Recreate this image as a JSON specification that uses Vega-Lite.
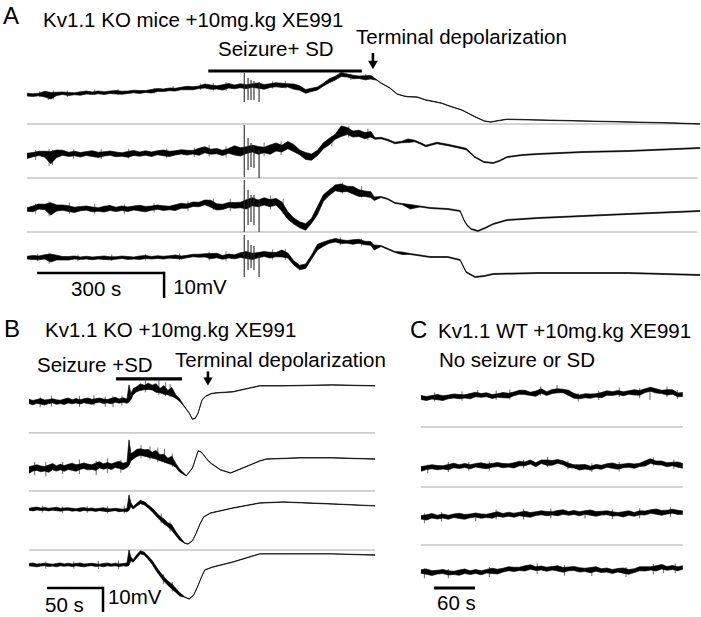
{
"$schema":"https://vega.github.io/schema/vega-lite/v6.json",
"padding":0,
"background":"white",
"spacing":0,
"bounds":"flush",
"config":{"view":{"stroke":null},"axis":{"disable":true},"font":"Liberation Sans","text":{"font":"Liberation Sans","color":"black"}},
"datasets":{
"A":[
{"c":1,"t":0,"a":-0.4,"b":0.7},{"c":1,"t":14,"a":-0.6,"b":0.5},{"c":1,"t":28,"a":-0.3,"b":0.7},{"c":1,"t":42,"a":-0.8,"b":1.5},{"c":1,"t":56,"a":-1.6,"b":1.0},{"c":1,"t":70,"a":-0.2,"b":1.1},{"c":1,"t":84,"a":0.2,"b":1.2},{"c":1,"t":98,"a":-0.2,"b":1.0},{"c":1,"t":112,"a":0.1,"b":0.9},{"c":1,"t":126,"a":-0.1,"b":1.3},{"c":1,"t":140,"a":0.4,"b":1.6},{"c":1,"t":154,"a":0.2,"b":1.2},{"c":1,"t":168,"a":0.5,"b":1.6},{"c":1,"t":182,"a":0.2,"b":1.3},{"c":1,"t":196,"a":0.6,"b":1.6},{"c":1,"t":210,"a":0.4,"b":1.8},{"c":1,"t":224,"a":0.3,"b":1.5},{"c":1,"t":238,"a":0.6,"b":1.6},{"c":1,"t":252,"a":0.9,"b":1.9},{"c":1,"t":266,"a":0.6,"b":1.8},{"c":1,"t":280,"a":1.0,"b":1.8},{"c":1,"t":294,"a":0.8,"b":2.2},{"c":1,"t":308,"a":1.4,"b":2.6},{"c":1,"t":322,"a":1.4,"b":2.4},{"c":1,"t":336,"a":1.7,"b":2.8},{"c":1,"t":350,"a":1.6,"b":2.7},{"c":1,"t":364,"a":2.1,"b":3.1},{"c":1,"t":378,"a":2.1,"b":3.5},{"c":1,"t":392,"a":2.1,"b":3.3},{"c":1,"t":406,"a":2.6,"b":3.6},{"c":1,"t":420,"a":2.8,"b":4.4},{"c":1,"t":434,"a":2.3,"b":4.0},{"c":1,"t":448,"a":2.4,"b":3.7},{"c":1,"t":462,"a":2.0,"b":4.1},{"c":1,"t":476,"a":2.8,"b":4.6},{"c":1,"t":490,"a":2.5,"b":4.0},{"c":1,"t":504,"a":2.9,"b":4.5},{"c":1,"t":518,"a":2.5,"b":4.1},{"c":1,"t":532,"a":3.1,"b":4.5},{"c":1,"t":546,"a":2.7,"b":4.8},{"c":1,"t":560,"a":2.3,"b":4.2},{"c":1,"t":574,"a":3.0,"b":4.5},{"c":1,"t":588,"a":3.3,"b":4.9},{"c":1,"t":602,"a":3.0,"b":4.7},{"c":1,"t":616,"a":3.2,"b":4.5},{"c":1,"t":630,"a":2.3,"b":4.4},{"c":1,"t":644,"a":1.9,"b":3.7},{"c":1,"t":658,"a":0.7,"b":2.2},{"c":1,"t":672,"a":1.4,"b":2.7},{"c":1,"t":686,"a":2.0,"b":3.2},{"c":1,"t":700,"a":3.6,"b":4.7},{"c":1,"t":714,"a":4.9,"b":6.5},{"c":1,"t":728,"a":6.0,"b":7.5},{"c":1,"t":742,"a":7.4,"b":9.0},{"c":1,"t":756,"a":7.2,"b":8.4},{"c":1,"t":770,"a":6.5,"b":7.9},{"c":1,"t":784,"a":6.6,"b":7.6},{"c":1,"t":798,"a":6.1,"b":7.7},{"c":1,"t":812,"a":6.4,"b":7.8},
{"c":1,"t":826,"a":5.9,"b":6.1},{"c":1,"t":836,"a":4.7,"b":4.9},{"c":1,"t":857,"a":2.7,"b":2.9},{"c":1,"t":874,"a":0.3,"b":0.5},{"c":1,"t":890,"a":-0.5,"b":-0.3},{"c":1,"t":900,"a":-0.8,"b":-0.6},{"c":1,"t":921,"a":-0.9,"b":-0.7},{"c":1,"t":942,"a":-2.1,"b":-1.9},{"c":1,"t":960,"a":-2.7,"b":-2.5},{"c":1,"t":980,"a":-3.4,"b":-3.2},{"c":1,"t":994,"a":-4.3,"b":-4.1},{"c":1,"t":1027,"a":-6.1,"b":-5.9},{"c":1,"t":1058,"a":-8.8,"b":-8.6},{"c":1,"t":1080,"a":-10.5,"b":-10.3},{"c":1,"t":1095,"a":-10.9,"b":-10.7},{"c":1,"t":1115,"a":-10.3,"b":-10.1},{"c":1,"t":1134,"a":-9.8,"b":-9.6},{"c":1,"t":1207,"a":-10.1,"b":-9.9},{"c":1,"t":1313,"a":-10.5,"b":-10.3},{"c":1,"t":1420,"a":-10.9,"b":-10.7},{"c":1,"t":1526,"a":-11.3,"b":-11.1},{"c":1,"t":1590,"a":-11.7,"b":-11.5},
{"c":2,"t":0,"a":-25.4,"b":-23.3},{"c":2,"t":14,"a":-24.7,"b":-23.0},{"c":2,"t":28,"a":-24.2,"b":-22.5},{"c":2,"t":42,"a":-24.9,"b":-22.5},{"c":2,"t":56,"a":-27.5,"b":-22.6},{"c":2,"t":70,"a":-25.0,"b":-22.0},{"c":2,"t":84,"a":-24.1,"b":-22.1},{"c":2,"t":98,"a":-24.6,"b":-22.9},{"c":2,"t":112,"a":-24.3,"b":-22.5},{"c":2,"t":126,"a":-24.8,"b":-23.0},{"c":2,"t":140,"a":-24.2,"b":-22.6},{"c":2,"t":154,"a":-24.6,"b":-22.3},{"c":2,"t":168,"a":-25.0,"b":-22.9},{"c":2,"t":182,"a":-24.4,"b":-22.7},{"c":2,"t":196,"a":-24.1,"b":-22.4},{"c":2,"t":210,"a":-24.7,"b":-22.8},{"c":2,"t":224,"a":-24.5,"b":-23.1},{"c":2,"t":238,"a":-24.9,"b":-22.6},{"c":2,"t":252,"a":-24.2,"b":-22.2},{"c":2,"t":266,"a":-24.5,"b":-22.8},{"c":2,"t":280,"a":-24.1,"b":-22.3},{"c":2,"t":294,"a":-24.6,"b":-22.8},{"c":2,"t":308,"a":-23.9,"b":-22.3},{"c":2,"t":322,"a":-24.3,"b":-22.0},{"c":2,"t":336,"a":-24.6,"b":-22.5},{"c":2,"t":350,"a":-24.0,"b":-22.3},{"c":2,"t":364,"a":-23.6,"b":-21.9},{"c":2,"t":378,"a":-24.0,"b":-22.1},{"c":2,"t":392,"a":-23.6,"b":-22.2},{"c":2,"t":406,"a":-24.1,"b":-21.3},{"c":2,"t":420,"a":-23.1,"b":-20.7},{"c":2,"t":434,"a":-23.7,"b":-21.7},{"c":2,"t":448,"a":-23.5,"b":-21.4},{"c":2,"t":462,"a":-24.2,"b":-22.1},{"c":2,"t":476,"a":-23.3,"b":-21.4},{"c":2,"t":490,"a":-24.0,"b":-20.3},{"c":2,"t":504,"a":-24.4,"b":-21.1},{"c":2,"t":518,"a":-23.4,"b":-20.7},{"c":2,"t":532,"a":-22.8,"b":-20.1},{"c":2,"t":546,"a":-23.7,"b":-20.6},{"c":2,"t":560,"a":-23.1,"b":-20.9},{"c":2,"t":574,"a":-23.7,"b":-20.0},{"c":2,"t":588,"a":-22.4,"b":-19.2},{"c":2,"t":602,"a":-22.8,"b":-20.1},{"c":2,"t":616,"a":-21.5,"b":-18.6},{"c":2,"t":630,"a":-22.7,"b":-19.8},{"c":2,"t":644,"a":-23.9,"b":-22.0},{"c":2,"t":658,"a":-25.8,"b":-23.0},{"c":2,"t":672,"a":-26.1,"b":-23.6},{"c":2,"t":686,"a":-24.2,"b":-22.1},{"c":2,"t":700,"a":-21.5,"b":-19.1},{"c":2,"t":714,"a":-19.9,"b":-17.3},{"c":2,"t":728,"a":-17.7,"b":-15.7},{"c":2,"t":742,"a":-16.6,"b":-12.4},{"c":2,"t":756,"a":-15.8,"b":-13.0},{"c":2,"t":770,"a":-16.8,"b":-14.4},{"c":2,"t":784,"a":-16.6,"b":-14.1},{"c":2,"t":798,"a":-17.5,"b":-15.0},{"c":2,"t":812,"a":-16.8,"b":-14.6},
{"c":2,"t":822,"a":-17.7,"b":-17.1},{"c":2,"t":836,"a":-17.5,"b":-16.9},{"c":2,"t":852,"a":-18.3,"b":-17.7},{"c":2,"t":869,"a":-19.5,"b":-18.9},{"c":2,"t":885,"a":-19.1,"b":-18.5},{"c":2,"t":900,"a":-19.0,"b":-17.6},{"c":2,"t":916,"a":-18.7,"b":-18.1},{"c":2,"t":930,"a":-19.7,"b":-19.1},{"c":2,"t":942,"a":-20.7,"b":-20.1},{"c":2,"t":955,"a":-20.1,"b":-19.5},{"c":2,"t":968,"a":-19.5,"b":-18.9},{"c":2,"t":994,"a":-20.3,"b":-19.7},{"c":2,"t":1016,"a":-21.1,"b":-20.5},{"c":2,"t":1037,"a":-21.9,"b":-21.3},{"c":2,"t":1058,"a":-25.0,"b":-24.6},{"c":2,"t":1079,"a":-27.0,"b":-26.6},{"c":2,"t":1101,"a":-27.4,"b":-27.0},{"c":2,"t":1115,"a":-26.6,"b":-26.2},{"c":2,"t":1134,"a":-25.0,"b":-24.6},{"c":2,"t":1170,"a":-24.2,"b":-23.8},{"c":2,"t":1207,"a":-23.8,"b":-23.4},{"c":2,"t":1313,"a":-23.0,"b":-22.6},{"c":2,"t":1420,"a":-22.6,"b":-22.2},{"c":2,"t":1590,"a":-21.4,"b":-21.0},
{"c":3,"t":0,"a":-46.5,"b":-45.1},{"c":3,"t":14,"a":-46.7,"b":-44.4},{"c":3,"t":28,"a":-45.6,"b":-43.6},{"c":3,"t":42,"a":-45.9,"b":-43.7},{"c":3,"t":56,"a":-48.0,"b":-43.1},{"c":3,"t":70,"a":-46.4,"b":-44.0},{"c":3,"t":84,"a":-46.1,"b":-44.0},{"c":3,"t":98,"a":-46.6,"b":-44.3},{"c":3,"t":112,"a":-47.0,"b":-44.9},{"c":3,"t":126,"a":-46.3,"b":-44.6},{"c":3,"t":140,"a":-46.1,"b":-44.4},{"c":3,"t":154,"a":-46.7,"b":-44.8},{"c":3,"t":168,"a":-46.5,"b":-45.1},{"c":3,"t":182,"a":-46.8,"b":-44.5},{"c":3,"t":196,"a":-46.2,"b":-44.2},{"c":3,"t":210,"a":-46.6,"b":-44.9},{"c":3,"t":224,"a":-46.2,"b":-44.4},{"c":3,"t":238,"a":-46.6,"b":-44.8},{"c":3,"t":252,"a":-46.0,"b":-44.4},{"c":3,"t":266,"a":-46.4,"b":-44.1},{"c":3,"t":280,"a":-46.7,"b":-44.6},{"c":3,"t":294,"a":-46.1,"b":-44.4},{"c":3,"t":308,"a":-45.7,"b":-44.0},{"c":3,"t":322,"a":-46.2,"b":-44.3},{"c":3,"t":336,"a":-45.9,"b":-44.5},{"c":3,"t":350,"a":-46.2,"b":-43.9},{"c":3,"t":364,"a":-45.3,"b":-43.3},{"c":3,"t":378,"a":-45.3,"b":-43.6},{"c":3,"t":392,"a":-44.6,"b":-42.8},{"c":3,"t":406,"a":-44.7,"b":-42.9},{"c":3,"t":420,"a":-43.9,"b":-42.0},{"c":3,"t":434,"a":-44.9,"b":-42.1},{"c":3,"t":448,"a":-46.0,"b":-43.5},{"c":3,"t":462,"a":-45.8,"b":-43.7},{"c":3,"t":476,"a":-45.0,"b":-43.0},{"c":3,"t":490,"a":-45.3,"b":-43.0},{"c":3,"t":504,"a":-45.1,"b":-42.9},{"c":3,"t":518,"a":-45.6,"b":-41.9},{"c":3,"t":532,"a":-44.3,"b":-41.1},{"c":3,"t":546,"a":-44.7,"b":-42.0},{"c":3,"t":560,"a":-44.0,"b":-41.1},{"c":3,"t":574,"a":-44.7,"b":-41.8},{"c":3,"t":588,"a":-44.0,"b":-41.4},{"c":3,"t":602,"a":-46.5,"b":-42.8},{"c":3,"t":616,"a":-49.7,"b":-46.7},{"c":3,"t":630,"a":-51.6,"b":-49.2},{"c":3,"t":644,"a":-53.1,"b":-50.7},{"c":3,"t":658,"a":-54.1,"b":-51.5},{"c":3,"t":672,"a":-51.3,"b":-49.3},{"c":3,"t":686,"a":-47.8,"b":-44.6},{"c":3,"t":700,"a":-42.5,"b":-39.9},{"c":3,"t":714,"a":-40.1,"b":-37.9},{"c":3,"t":728,"a":-38.3,"b":-36.0},{"c":3,"t":742,"a":-38.8,"b":-35.6},{"c":3,"t":756,"a":-38.6,"b":-36.5},{"c":3,"t":770,"a":-39.6,"b":-36.6},{"c":3,"t":784,"a":-40.6,"b":-37.9},{"c":3,"t":798,"a":-40.6,"b":-38.4},{"c":3,"t":812,"a":-41.0,"b":-38.7},
{"c":3,"t":820,"a":-42.2,"b":-40.8},{"c":3,"t":836,"a":-41.0,"b":-40.6},{"c":3,"t":852,"a":-41.8,"b":-41.4},{"c":3,"t":869,"a":-43.4,"b":-43.0},{"c":3,"t":886,"a":-43.8,"b":-43.4},{"c":3,"t":905,"a":-45.6,"b":-43.8},{"c":3,"t":928,"a":-44.8,"b":-44.4},{"c":3,"t":952,"a":-45.4,"b":-45.0},{"c":3,"t":994,"a":-45.8,"b":-45.4},{"c":3,"t":1023,"a":-46.6,"b":-46.2},{"c":3,"t":1032,"a":-50.2,"b":-49.8},{"c":3,"t":1039,"a":-52.2,"b":-51.8},{"c":3,"t":1049,"a":-53.8,"b":-53.4},{"c":3,"t":1065,"a":-54.6,"b":-54.2},{"c":3,"t":1082,"a":-53.4,"b":-53.0},{"c":3,"t":1101,"a":-51.8,"b":-51.4},{"c":3,"t":1134,"a":-50.2,"b":-49.8},{"c":3,"t":1207,"a":-49.4,"b":-49.0},{"c":3,"t":1313,"a":-48.6,"b":-48.2},{"c":3,"t":1420,"a":-47.8,"b":-47.4},{"c":3,"t":1590,"a":-46.6,"b":-46.2},
{"c":4,"t":0,"a":-65.6,"b":-64.5},{"c":4,"t":14,"a":-65.8,"b":-64.2},{"c":4,"t":28,"a":-65.9,"b":-64.4},{"c":4,"t":42,"a":-65.6,"b":-63.9},{"c":4,"t":56,"a":-66.8,"b":-63.6},{"c":4,"t":70,"a":-66.0,"b":-64.1},{"c":4,"t":84,"a":-66.0,"b":-64.6},{"c":4,"t":98,"a":-66.0,"b":-64.6},{"c":4,"t":112,"a":-65.6,"b":-64.4},{"c":4,"t":126,"a":-65.8,"b":-64.8},{"c":4,"t":140,"a":-65.6,"b":-64.5},{"c":4,"t":154,"a":-65.9,"b":-64.8},{"c":4,"t":168,"a":-65.6,"b":-64.6},{"c":4,"t":182,"a":-65.8,"b":-64.4},{"c":4,"t":196,"a":-65.9,"b":-64.7},{"c":4,"t":210,"a":-65.7,"b":-64.7},{"c":4,"t":224,"a":-65.4,"b":-64.4},{"c":4,"t":238,"a":-65.8,"b":-64.6},{"c":4,"t":252,"a":-65.6,"b":-64.8},{"c":4,"t":266,"a":-65.8,"b":-64.4},{"c":4,"t":280,"a":-65.4,"b":-64.2},{"c":4,"t":294,"a":-65.6,"b":-64.6},{"c":4,"t":308,"a":-65.4,"b":-64.3},{"c":4,"t":322,"a":-65.6,"b":-64.5},{"c":4,"t":336,"a":-65.3,"b":-64.3},{"c":4,"t":350,"a":-65.4,"b":-64.0},{"c":4,"t":364,"a":-65.6,"b":-64.4},{"c":4,"t":378,"a":-65.1,"b":-64.1},{"c":4,"t":392,"a":-64.7,"b":-63.7},{"c":4,"t":406,"a":-64.9,"b":-63.7},{"c":4,"t":420,"a":-64.8,"b":-63.5},{"c":4,"t":434,"a":-65.5,"b":-63.4},{"c":4,"t":448,"a":-65.1,"b":-63.3},{"c":4,"t":462,"a":-65.7,"b":-64.2},{"c":4,"t":476,"a":-65.2,"b":-63.6},{"c":4,"t":490,"a":-65.5,"b":-63.9},{"c":4,"t":504,"a":-65.0,"b":-63.1},{"c":4,"t":518,"a":-65.4,"b":-62.6},{"c":4,"t":532,"a":-65.8,"b":-63.3},{"c":4,"t":546,"a":-65.1,"b":-63.0},{"c":4,"t":560,"a":-64.6,"b":-62.6},{"c":4,"t":574,"a":-65.2,"b":-62.9},{"c":4,"t":588,"a":-64.7,"b":-63.0},{"c":4,"t":602,"a":-64.8,"b":-62.0},{"c":4,"t":616,"a":-65.2,"b":-63.2},{"c":4,"t":630,"a":-68.0,"b":-66.3},{"c":4,"t":644,"a":-69.9,"b":-68.1},{"c":4,"t":658,"a":-69.4,"b":-67.6},{"c":4,"t":672,"a":-65.6,"b":-64.0},{"c":4,"t":686,"a":-62.0,"b":-59.7},{"c":4,"t":700,"a":-60.5,"b":-58.8},{"c":4,"t":714,"a":-59.3,"b":-58.0},{"c":4,"t":728,"a":-58.8,"b":-57.4},{"c":4,"t":742,"a":-59.4,"b":-57.9},{"c":4,"t":756,"a":-59.3,"b":-58.2},{"c":4,"t":770,"a":-59.7,"b":-57.9},{"c":4,"t":784,"a":-59.3,"b":-57.7},{"c":4,"t":798,"a":-59.9,"b":-58.5},{"c":4,"t":812,"a":-60.1,"b":-58.6},
{"c":4,"t":820,"a":-62.0,"b":-60.0},{"c":4,"t":836,"a":-60.6,"b":-60.2},{"c":4,"t":869,"a":-63.0,"b":-62.6},{"c":4,"t":886,"a":-63.8,"b":-62.8},{"c":4,"t":905,"a":-63.8,"b":-63.4},{"c":4,"t":952,"a":-65.0,"b":-64.6},{"c":4,"t":994,"a":-65.0,"b":-64.6},{"c":4,"t":1023,"a":-66.2,"b":-65.8},{"c":4,"t":1037,"a":-71.0,"b":-70.6},{"c":4,"t":1058,"a":-73.0,"b":-72.6},{"c":4,"t":1080,"a":-72.6,"b":-72.2},{"c":4,"t":1101,"a":-71.8,"b":-71.4},{"c":4,"t":1207,"a":-71.4,"b":-71.0},{"c":4,"t":1420,"a":-71.4,"b":-71.0},{"c":4,"t":1590,"a":-72.2,"b":-71.8}
],
"As":[
{"c":1,"t":513,"a":-2.8,"b":8.8},{"c":1,"t":522,"a":-2.0,"b":6.8},{"c":1,"t":529,"a":-2.0,"b":6.0},{"c":1,"t":536,"a":-2.0,"b":5.6},{"c":1,"t":548,"a":-2.8,"b":5.2},
{"c":2,"t":513,"a":-32.8,"b":-12.0},{"c":2,"t":522,"a":-30.0,"b":-17.2},{"c":2,"t":529,"a":-28.8,"b":-19.2},{"c":2,"t":536,"a":-29.2,"b":-20.0},{"c":2,"t":548,"a":-33.2,"b":-22.0},
{"c":3,"t":513,"a":-54.8,"b":-34.0},{"c":3,"t":522,"a":-52.0,"b":-38.0},{"c":3,"t":529,"a":-50.8,"b":-40.0},{"c":3,"t":536,"a":-52.0,"b":-40.0},{"c":3,"t":548,"a":-54.8,"b":-42.0},
{"c":4,"t":513,"a":-72.8,"b":-56.0},{"c":4,"t":522,"a":-70.0,"b":-58.0},{"c":4,"t":529,"a":-69.2,"b":-60.0},{"c":4,"t":536,"a":-70.0,"b":-60.4},{"c":4,"t":548,"a":-72.8,"b":-64.0}
],
"Ah":[
{"c":1,"t":30,"a":-0.9,"b":1.6},{"c":1,"t":50,"a":-2.0,"b":1.2},{"c":1,"t":62,"a":-1.8,"b":1.8},{"c":1,"t":95,"a":-0.8,"b":1.8},{"c":1,"t":160,"a":0.0,"b":2.2},{"c":1,"t":215,"a":0.0,"b":2.3},{"c":1,"t":300,"a":0.5,"b":2.8},{"c":1,"t":345,"a":1.5,"b":3.6},{"c":1,"t":410,"a":2.0,"b":4.6},{"c":1,"t":440,"a":1.8,"b":4.8},{"c":1,"t":470,"a":1.6,"b":5.2},{"c":1,"t":580,"a":2.5,"b":5.5},{"c":1,"t":610,"a":2.6,"b":5.6},{"c":1,"t":765,"a":6.0,"b":8.6},{"c":1,"t":800,"a":5.8,"b":8.4},
{"c":2,"t":20,"a":-26.0,"b":-22.0},{"c":2,"t":52,"a":-28.5,"b":-21.5},{"c":2,"t":60,"a":-28.0,"b":-22.0},{"c":2,"t":110,"a":-25.5,"b":-21.8},{"c":2,"t":175,"a":-25.6,"b":-21.6},{"c":2,"t":240,"a":-25.5,"b":-21.5},{"c":2,"t":330,"a":-25.2,"b":-21.4},{"c":2,"t":395,"a":-24.8,"b":-21.0},{"c":2,"t":430,"a":-24.6,"b":-20.0},{"c":2,"t":470,"a":-25.0,"b":-20.5},{"c":2,"t":560,"a":-24.5,"b":-19.0},{"c":2,"t":600,"a":-24.0,"b":-18.5},{"c":2,"t":720,"a":-20.5,"b":-16.5},{"c":2,"t":760,"a":-17.0,"b":-12.5},{"c":2,"t":805,"a":-18.0,"b":-13.5},
{"c":3,"t":20,"a":-47.5,"b":-43.5},{"c":3,"t":52,"a":-48.5,"b":-42.5},{"c":3,"t":100,"a":-47.5,"b":-43.0},{"c":3,"t":160,"a":-47.5,"b":-43.5},{"c":3,"t":230,"a":-47.5,"b":-43.8},{"c":3,"t":300,"a":-47.0,"b":-43.2},{"c":3,"t":380,"a":-46.5,"b":-42.5},{"c":3,"t":440,"a":-46.0,"b":-41.5},{"c":3,"t":480,"a":-46.5,"b":-41.5},{"c":3,"t":575,"a":-45.8,"b":-40.2},{"c":3,"t":605,"a":-47.5,"b":-41.5},{"c":3,"t":745,"a":-39.5,"b":-35.0},{"c":3,"t":790,"a":-41.0,"b":-36.5},
{"c":4,"t":25,"a":-66.5,"b":-63.5},{"c":4,"t":52,"a":-67.5,"b":-63.0},{"c":4,"t":120,"a":-66.5,"b":-63.8},{"c":4,"t":200,"a":-66.4,"b":-63.8},{"c":4,"t":280,"a":-66.2,"b":-63.6},{"c":4,"t":360,"a":-66.0,"b":-63.4},{"c":4,"t":430,"a":-66.2,"b":-62.8},{"c":4,"t":470,"a":-66.5,"b":-62.5},{"c":4,"t":580,"a":-65.8,"b":-61.8},{"c":4,"t":610,"a":-66.0,"b":-61.5},{"c":4,"t":740,"a":-60.0,"b":-57.0},{"c":4,"t":790,"a":-60.5,"b":-57.5}
],
"B":[
{"c":1,"t":0,"a":-0.7,"b":1.1},{"c":1,"t":3.5,"a":-1.2,"b":0.6},{"c":1,"t":7,"a":-0.6,"b":1.0},{"c":1,"t":10.5,"a":-0.9,"b":1.4},{"c":1,"t":14,"a":-1.3,"b":0.8},{"c":1,"t":17.5,"a":-0.7,"b":1.0},{"c":1,"t":21,"a":-0.4,"b":1.3},{"c":1,"t":24.5,"a":-1.0,"b":0.9},{"c":1,"t":28,"a":-0.7,"b":0.7},{"c":1,"t":31.5,"a":-1.1,"b":1.2},{"c":1,"t":35,"a":-0.4,"b":1.6},{"c":1,"t":38.5,"a":-0.8,"b":0.9},{"c":1,"t":42,"a":-0.4,"b":1.4},{"c":1,"t":45.5,"a":-0.9,"b":0.9},{"c":1,"t":49,"a":-0.3,"b":1.3},{"c":1,"t":52.5,"a":-0.7,"b":1.6},{"c":1,"t":56,"a":-1.0,"b":1.1},{"c":1,"t":59.5,"a":-0.4,"b":1.3},{"c":1,"t":63,"a":-0.1,"b":1.6},{"c":1,"t":66.5,"a":-0.7,"b":1.2},{"c":1,"t":70,"a":-0.4,"b":1.0},{"c":1,"t":73.5,"a":-0.8,"b":1.5},{"c":1,"t":77,"a":-0.1,"b":1.9},{"c":1,"t":80.5,"a":-0.5,"b":1.2},{"c":1,"t":84,"a":-0.1,"b":1.7},{"c":1,"t":87.5,"a":-0.6,"b":1.2},
{"c":1,"t":89.3,"a":0.0,"b":7.1},{"c":1,"t":91,"a":1.0,"b":3.5},{"c":1,"t":93,"a":3.0,"b":5.5},{"c":1,"t":96,"a":4.2,"b":6.3},{"c":1,"t":99.5,"a":4.8,"b":7.5},{"c":1,"t":103,"a":5.1,"b":6.9},{"c":1,"t":106.5,"a":5.2,"b":7.8},{"c":1,"t":110,"a":5.0,"b":7.0},{"c":1,"t":113.5,"a":4.0,"b":7.6},{"c":1,"t":117,"a":3.8,"b":5.6},{"c":1,"t":120.5,"a":3.2,"b":6.8},{"c":1,"t":124,"a":3.0,"b":4.8},{"c":1,"t":127.5,"a":2.4,"b":6.0},{"c":1,"t":131,"a":1.5,"b":3.0},{"c":1,"t":134.5,"a":0.3,"b":1.3},
{"c":1,"t":139,"a":-2.2,"b":-2.0},{"c":1,"t":143,"a":-4.7,"b":-4.5},{"c":1,"t":146,"a":-7.3,"b":-7.1},{"c":1,"t":148.5,"a":-6.9,"b":-6.7},{"c":1,"t":151,"a":-4.7,"b":-4.5},{"c":1,"t":154.5,"a":0.7,"b":0.9},{"c":1,"t":158,"a":2.4,"b":2.6},{"c":1,"t":163,"a":3.4,"b":3.6},{"c":1,"t":168,"a":3.7,"b":3.9},{"c":1,"t":182,"a":4.1,"b":4.3},{"c":1,"t":197,"a":5.7,"b":5.9},{"c":1,"t":206,"a":6.6,"b":6.8},{"c":1,"t":227,"a":6.6,"b":6.8},{"c":1,"t":271,"a":7.0,"b":7.2},{"c":1,"t":309,"a":6.6,"b":6.8},
{"c":2,"t":0,"a":-29.7,"b":-27.0},{"c":2,"t":3.5,"a":-28.8,"b":-26.6},{"c":2,"t":7,"a":-28.5,"b":-26.2},{"c":2,"t":10.5,"a":-29.1,"b":-26.7},{"c":2,"t":14,"a":-28.8,"b":-26.9},{"c":2,"t":17.5,"a":-29.3,"b":-26.3},{"c":2,"t":21,"a":-28.3,"b":-25.7},{"c":2,"t":24.5,"a":-28.8,"b":-26.6},{"c":2,"t":28,"a":-28.3,"b":-26.0},{"c":2,"t":31.5,"a":-28.9,"b":-26.5},{"c":2,"t":35,"a":-28.1,"b":-26.0},{"c":2,"t":38.5,"a":-28.5,"b":-25.5},{"c":2,"t":42,"a":-28.9,"b":-26.2},{"c":2,"t":45.5,"a":-28.1,"b":-25.9},{"c":2,"t":49,"a":-27.7,"b":-25.4},{"c":2,"t":52.5,"a":-28.3,"b":-25.9},{"c":2,"t":56,"a":-28.1,"b":-26.2},{"c":2,"t":59.5,"a":-28.5,"b":-25.5},{"c":2,"t":63,"a":-27.5,"b":-24.9},{"c":2,"t":66.5,"a":-28.0,"b":-25.8},{"c":2,"t":70,"a":-27.5,"b":-25.2},{"c":2,"t":73.5,"a":-28.2,"b":-25.8},{"c":2,"t":77,"a":-27.3,"b":-25.2},{"c":2,"t":80.5,"a":-27.7,"b":-24.7},{"c":2,"t":84,"a":-28.2,"b":-25.5},{"c":2,"t":87.5,"a":-27.3,"b":-25.1},
{"c":2,"t":89.3,"a":-26.5,"b":-15.8},{"c":2,"t":91,"a":-24.5,"b":-21.5},{"c":2,"t":93,"a":-23.8,"b":-21.0},{"c":2,"t":96,"a":-22.8,"b":-19.8},{"c":2,"t":99.5,"a":-22.2,"b":-19.5},{"c":2,"t":103,"a":-22.6,"b":-19.9},{"c":2,"t":106.5,"a":-23.0,"b":-19.8},{"c":2,"t":110,"a":-23.4,"b":-21.0},{"c":2,"t":113.5,"a":-23.8,"b":-20.2},{"c":2,"t":117,"a":-24.5,"b":-22.0},{"c":2,"t":120.5,"a":-25.0,"b":-21.8},{"c":2,"t":124,"a":-25.6,"b":-23.5},{"c":2,"t":127.5,"a":-26.2,"b":-22.6},{"c":2,"t":131,"a":-27.2,"b":-25.5},{"c":2,"t":134.5,"a":-29.2,"b":-27.9},
{"c":2,"t":140.5,"a":-30.9,"b":-30.7},{"c":2,"t":146,"a":-27.6,"b":-27.4},{"c":2,"t":149,"a":-23.4,"b":-23.2},{"c":2,"t":151,"a":-20.5,"b":-20.3},{"c":2,"t":153.5,"a":-20.9,"b":-20.7},{"c":2,"t":156,"a":-22.2,"b":-22.0},{"c":2,"t":159.5,"a":-24.3,"b":-24.1},{"c":2,"t":162,"a":-25.5,"b":-25.3},{"c":2,"t":171,"a":-28.4,"b":-28.2},{"c":2,"t":180,"a":-29.7,"b":-29.5},{"c":2,"t":191,"a":-27.6,"b":-27.4},{"c":2,"t":206,"a":-24.7,"b":-24.5},{"c":2,"t":212,"a":-23.9,"b":-23.7},{"c":2,"t":242,"a":-23.4,"b":-23.2},{"c":2,"t":271,"a":-23.4,"b":-23.2},{"c":2,"t":309,"a":-23.9,"b":-23.7},
{"c":3,"t":0,"a":-45.1,"b":-44.3},{"c":3,"t":3.5,"a":-45.4,"b":-44.0},{"c":3,"t":7,"a":-45.0,"b":-43.8},{"c":3,"t":10.5,"a":-45.2,"b":-44.2},{"c":3,"t":14,"a":-45.1,"b":-44.0},{"c":3,"t":17.5,"a":-45.4,"b":-44.3},{"c":3,"t":21,"a":-45.1,"b":-44.1},{"c":3,"t":24.5,"a":-45.3,"b":-43.9},{"c":3,"t":28,"a":-45.5,"b":-44.3},{"c":3,"t":31.5,"a":-45.2,"b":-44.2},{"c":3,"t":35,"a":-45.1,"b":-44.1},{"c":3,"t":38.5,"a":-45.5,"b":-44.3},{"c":3,"t":42,"a":-45.3,"b":-44.5},{"c":3,"t":45.5,"a":-45.6,"b":-44.2},{"c":3,"t":49,"a":-45.2,"b":-44.0},{"c":3,"t":52.5,"a":-45.4,"b":-44.4},{"c":3,"t":56,"a":-45.3,"b":-44.2},{"c":3,"t":59.5,"a":-45.6,"b":-44.5},{"c":3,"t":63,"a":-45.3,"b":-44.3},{"c":3,"t":66.5,"a":-45.5,"b":-44.1},{"c":3,"t":70,"a":-45.7,"b":-44.5},{"c":3,"t":73.5,"a":-45.5,"b":-44.5},{"c":3,"t":77,"a":-45.3,"b":-44.3},{"c":3,"t":80.5,"a":-45.7,"b":-44.5},{"c":3,"t":84,"a":-45.5,"b":-44.7},{"c":3,"t":87.5,"a":-45.8,"b":-44.4},
{"c":3,"t":89.3,"a":-45.2,"b":-38.8},{"c":3,"t":91,"a":-43.6,"b":-42.0},{"c":3,"t":93,"a":-44.6,"b":-43.6},{"c":3,"t":96,"a":-43.5,"b":-42.3},{"c":3,"t":99.5,"a":-42.4,"b":-41.0},{"c":3,"t":103,"a":-42.9,"b":-41.6},{"c":3,"t":106.5,"a":-44.2,"b":-42.9},{"c":3,"t":110,"a":-45.7,"b":-44.2},{"c":3,"t":113.5,"a":-47.5,"b":-46.0},{"c":3,"t":117,"a":-49.3,"b":-47.6},{"c":3,"t":120.5,"a":-50.8,"b":-48.8},{"c":3,"t":124,"a":-52.0,"b":-50.3},{"c":3,"t":127.5,"a":-53.5,"b":-51.2},{"c":3,"t":131,"a":-55.6,"b":-53.9},{"c":3,"t":134.5,"a":-57.6,"b":-56.2},
{"c":3,"t":139,"a":-58.9,"b":-58.7},{"c":3,"t":142,"a":-59.3,"b":-59.1},{"c":3,"t":146,"a":-57.9,"b":-57.7},{"c":3,"t":149,"a":-55.1,"b":-54.9},{"c":3,"t":153,"a":-50.6,"b":-50.4},{"c":3,"t":156,"a":-48.0,"b":-47.8},{"c":3,"t":162,"a":-46.4,"b":-46.2},{"c":3,"t":182,"a":-44.3,"b":-44.1},{"c":3,"t":206,"a":-42.2,"b":-42.0},{"c":3,"t":227,"a":-41.8,"b":-41.6},{"c":3,"t":271,"a":-42.6,"b":-42.4},{"c":3,"t":309,"a":-43.4,"b":-43.2},
{"c":4,"t":0,"a":-68.3,"b":-67.3},{"c":4,"t":3.5,"a":-68.5,"b":-67.1},{"c":4,"t":7,"a":-68.7,"b":-67.5},{"c":4,"t":10.5,"a":-68.4,"b":-67.4},{"c":4,"t":14,"a":-68.2,"b":-67.2},{"c":4,"t":17.5,"a":-68.6,"b":-67.4},{"c":4,"t":21,"a":-68.4,"b":-67.6},{"c":4,"t":24.5,"a":-68.7,"b":-67.3},{"c":4,"t":28,"a":-68.3,"b":-67.1},{"c":4,"t":31.5,"a":-68.5,"b":-67.5},{"c":4,"t":35,"a":-68.3,"b":-67.2},{"c":4,"t":38.5,"a":-68.6,"b":-67.5},{"c":4,"t":42,"a":-68.3,"b":-67.3},{"c":4,"t":45.5,"a":-68.5,"b":-67.1},{"c":4,"t":49,"a":-68.7,"b":-67.5},{"c":4,"t":52.5,"a":-68.4,"b":-67.4},{"c":4,"t":56,"a":-68.2,"b":-67.2},{"c":4,"t":59.5,"a":-68.6,"b":-67.4},{"c":4,"t":63,"a":-68.4,"b":-67.6},{"c":4,"t":66.5,"a":-68.7,"b":-67.3},{"c":4,"t":70,"a":-68.3,"b":-67.1},{"c":4,"t":73.5,"a":-68.5,"b":-67.5},{"c":4,"t":77,"a":-68.3,"b":-67.2},{"c":4,"t":80.5,"a":-68.6,"b":-67.5},{"c":4,"t":84,"a":-68.3,"b":-67.3},{"c":4,"t":87.5,"a":-68.5,"b":-67.1},
{"c":4,"t":89.3,"a":-68.0,"b":-61.7},{"c":4,"t":91,"a":-66.2,"b":-64.6},{"c":4,"t":93,"a":-66.8,"b":-65.7},{"c":4,"t":96,"a":-65.1,"b":-63.8},{"c":4,"t":99.5,"a":-63.3,"b":-62.0},{"c":4,"t":103,"a":-63.8,"b":-62.6},{"c":4,"t":106.5,"a":-65.6,"b":-64.3},{"c":4,"t":110,"a":-67.6,"b":-66.1},{"c":4,"t":113.5,"a":-70.3,"b":-68.6},{"c":4,"t":117,"a":-72.6,"b":-70.9},{"c":4,"t":120.5,"a":-74.7,"b":-72.8},{"c":4,"t":124,"a":-76.4,"b":-74.6},{"c":4,"t":127.5,"a":-77.9,"b":-75.8},{"c":4,"t":131,"a":-79.3,"b":-77.6},{"c":4,"t":134.5,"a":-80.8,"b":-79.4},
{"c":4,"t":139,"a":-81.4,"b":-81.2},{"c":4,"t":143,"a":-82.2,"b":-82.0},{"c":4,"t":147,"a":-80.6,"b":-80.4},{"c":4,"t":150,"a":-77.6,"b":-77.4},{"c":4,"t":154,"a":-73.1,"b":-72.9},{"c":4,"t":157,"a":-70.1,"b":-69.9},{"c":4,"t":164,"a":-68.9,"b":-68.7},{"c":4,"t":182,"a":-66.8,"b":-66.6},{"c":4,"t":206,"a":-63.4,"b":-63.2},{"c":4,"t":227,"a":-63.4,"b":-63.2},{"c":4,"t":271,"a":-63.4,"b":-63.2},{"c":4,"t":309,"a":-63.9,"b":-63.7}
],
"Bs":[
{"c":1,"t":10,"a":-2.2,"b":2.0},{"c":1,"t":20,"a":-1.8,"b":2.6},{"c":1,"t":45,"a":-2.0,"b":2.5},{"c":1,"t":58,"a":-1.5,"b":2.8},{"c":1,"t":68,"a":-2.0,"b":2.2},{"c":1,"t":75,"a":-2.2,"b":2.4},{"c":1,"t":83,"a":-1.6,"b":2.6},{"c":1,"t":104,"a":4.0,"b":9.0},{"c":1,"t":116,"a":3.0,"b":9.2},{"c":1,"t":122,"a":2.5,"b":8.2},{"c":1,"t":126,"a":2.0,"b":7.5},
{"c":2,"t":5,"a":-30.5,"b":-25.0},{"c":2,"t":15,"a":-31.0,"b":-25.0},{"c":2,"t":30,"a":-30.0,"b":-25.0},{"c":2,"t":45,"a":-30.0,"b":-24.0},{"c":2,"t":60,"a":-30.5,"b":-24.5},{"c":2,"t":70,"a":-29.5,"b":-23.5},{"c":2,"t":82,"a":-29.5,"b":-24.2},{"c":2,"t":100,"a":-23.5,"b":-18.0},{"c":2,"t":108,"a":-24.0,"b":-18.5},{"c":2,"t":115,"a":-25.0,"b":-19.0},{"c":2,"t":121,"a":-25.5,"b":-19.5},{"c":2,"t":128,"a":-27.0,"b":-21.5},
{"c":3,"t":12,"a":-46.0,"b":-43.2},{"c":3,"t":30,"a":-46.2,"b":-43.5},{"c":3,"t":52,"a":-46.2,"b":-43.4},{"c":3,"t":70,"a":-46.5,"b":-43.4},{"c":3,"t":85,"a":-46.5,"b":-43.2},{"c":3,"t":118,"a":-50.5,"b":-46.5},{"c":3,"t":126,"a":-54.0,"b":-50.0},
{"c":4,"t":15,"a":-69.5,"b":-66.5},{"c":4,"t":40,"a":-69.4,"b":-66.4},{"c":4,"t":62,"a":-69.6,"b":-66.3},{"c":4,"t":80,"a":-69.5,"b":-66.2},{"c":4,"t":120,"a":-75.8,"b":-71.8},{"c":4,"t":128,"a":-79.0,"b":-75.0}
],
"C":[
{"c":1,"t":0,"a":-1.0,"b":0.6},{"c":1,"t":8,"a":-1.4,"b":0.2},{"c":1,"t":16,"a":-0.8,"b":0.6},{"c":1,"t":24,"a":-1.1,"b":1.0},{"c":1,"t":32,"a":-1.4,"b":0.5},{"c":1,"t":40,"a":-0.7,"b":0.8},{"c":1,"t":48,"a":-0.4,"b":1.2},{"c":1,"t":56,"a":-0.7,"b":1.0},{"c":1,"t":64,"a":-0.4,"b":0.9},{"c":1,"t":72,"a":-0.7,"b":1.4},{"c":1,"t":80,"a":0.1,"b":1.9},{"c":1,"t":88,"a":-0.1,"b":1.4},{"c":1,"t":96,"a":0.1,"b":1.7},{"c":1,"t":104,"a":-0.6,"b":1.0},{"c":1,"t":112,"a":-0.1,"b":1.3},{"c":1,"t":120,"a":-0.3,"b":1.8},{"c":1,"t":128,"a":-0.4,"b":1.5},{"c":1,"t":136,"a":0.5,"b":2.0},{"c":1,"t":144,"a":1.1,"b":2.7},{"c":1,"t":152,"a":1.0,"b":2.7},{"c":1,"t":160,"a":0.6,"b":1.9},{"c":1,"t":168,"a":0.3,"b":2.4},{"c":1,"t":176,"a":1.5,"b":3.3},{"c":1,"t":184,"a":0.6,"b":2.1},{"c":1,"t":192,"a":1.4,"b":3.0},{"c":1,"t":200,"a":1.7,"b":3.3},{"c":1,"t":208,"a":1.7,"b":3.1},{"c":1,"t":216,"a":0.6,"b":2.7},{"c":1,"t":224,"a":-0.5,"b":1.4},{"c":1,"t":232,"a":-0.7,"b":0.8},{"c":1,"t":240,"a":-0.3,"b":1.3},{"c":1,"t":248,"a":-0.5,"b":1.2},{"c":1,"t":256,"a":0.0,"b":1.3},{"c":1,"t":264,"a":-0.3,"b":1.8},{"c":1,"t":272,"a":0.7,"b":2.5},{"c":1,"t":280,"a":0.6,"b":2.1},{"c":1,"t":288,"a":1.0,"b":2.6},{"c":1,"t":296,"a":0.5,"b":2.1},{"c":1,"t":304,"a":1.1,"b":2.5},{"c":1,"t":312,"a":0.8,"b":2.9},{"c":1,"t":320,"a":0.7,"b":2.6},{"c":1,"t":328,"a":1.8,"b":3.3},{"c":1,"t":336,"a":2.3,"b":3.9},{"c":1,"t":344,"a":1.6,"b":3.3},{"c":1,"t":352,"a":1.4,"b":2.7},{"c":1,"t":360,"a":0.8,"b":2.9},{"c":1,"t":368,"a":1.1,"b":2.9},{"c":1,"t":376,"a":0.1,"b":1.6},{"c":1,"t":383,"a":0.2,"b":1.8},
{"c":2,"t":0,"a":-29.7,"b":-27.8},{"c":2,"t":8,"a":-29.0,"b":-27.5},{"c":2,"t":16,"a":-28.7,"b":-27.1},{"c":2,"t":24,"a":-29.1,"b":-27.4},{"c":2,"t":32,"a":-28.8,"b":-27.5},{"c":2,"t":40,"a":-29.1,"b":-27.0},{"c":2,"t":48,"a":-28.3,"b":-26.5},{"c":2,"t":56,"a":-28.6,"b":-27.1},{"c":2,"t":64,"a":-28.2,"b":-26.6},{"c":2,"t":72,"a":-28.7,"b":-27.1},{"c":2,"t":80,"a":-28.0,"b":-26.6},{"c":2,"t":88,"a":-28.4,"b":-26.3},{"c":2,"t":96,"a":-28.7,"b":-26.8},{"c":2,"t":104,"a":-28.1,"b":-26.6},{"c":2,"t":112,"a":-27.8,"b":-26.2},{"c":2,"t":120,"a":-28.3,"b":-26.6},{"c":2,"t":128,"a":-28.0,"b":-26.7},{"c":2,"t":136,"a":-28.4,"b":-26.3},{"c":2,"t":144,"a":-27.5,"b":-25.7},{"c":2,"t":152,"a":-27.5,"b":-26.0},{"c":2,"t":160,"a":-26.8,"b":-25.2},{"c":2,"t":168,"a":-27.9,"b":-26.3},{"c":2,"t":176,"a":-26.6,"b":-25.2},{"c":2,"t":184,"a":-27.3,"b":-25.2},{"c":2,"t":192,"a":-27.3,"b":-25.4},{"c":2,"t":200,"a":-26.5,"b":-25.0},{"c":2,"t":208,"a":-27.1,"b":-25.5},{"c":2,"t":216,"a":-28.2,"b":-26.5},{"c":2,"t":224,"a":-28.4,"b":-27.1},{"c":2,"t":232,"a":-29.2,"b":-27.1},{"c":2,"t":240,"a":-28.8,"b":-27.0},{"c":2,"t":248,"a":-29.2,"b":-27.7},{"c":2,"t":256,"a":-28.6,"b":-27.0},{"c":2,"t":264,"a":-28.9,"b":-27.3},{"c":2,"t":272,"a":-28.1,"b":-26.7},{"c":2,"t":280,"a":-28.5,"b":-26.4},{"c":2,"t":288,"a":-28.9,"b":-27.0},{"c":2,"t":296,"a":-28.3,"b":-26.8},{"c":2,"t":304,"a":-28.1,"b":-26.5},{"c":2,"t":312,"a":-28.5,"b":-26.8},{"c":2,"t":320,"a":-27.8,"b":-26.5},{"c":2,"t":328,"a":-27.6,"b":-25.5},{"c":2,"t":336,"a":-26.5,"b":-24.7},{"c":2,"t":344,"a":-27.1,"b":-25.6},{"c":2,"t":352,"a":-27.2,"b":-25.6},{"c":2,"t":360,"a":-27.9,"b":-26.3},{"c":2,"t":368,"a":-27.5,"b":-26.1},{"c":2,"t":376,"a":-28.1,"b":-26.0},{"c":2,"t":383,"a":-28.5,"b":-26.6},
{"c":3,"t":0,"a":-48.8,"b":-47.5},{"c":3,"t":8,"a":-49.2,"b":-47.1},{"c":3,"t":16,"a":-48.4,"b":-46.6},{"c":3,"t":24,"a":-48.8,"b":-47.3},{"c":3,"t":32,"a":-48.4,"b":-46.8},{"c":3,"t":40,"a":-48.9,"b":-47.3},{"c":3,"t":48,"a":-48.2,"b":-46.8},{"c":3,"t":56,"a":-48.6,"b":-46.5},{"c":3,"t":64,"a":-48.9,"b":-47.0},{"c":3,"t":72,"a":-48.3,"b":-46.8},{"c":3,"t":80,"a":-48.0,"b":-46.4},{"c":3,"t":88,"a":-48.5,"b":-46.8},{"c":3,"t":96,"a":-48.2,"b":-46.9},{"c":3,"t":104,"a":-48.5,"b":-46.4},{"c":3,"t":112,"a":-47.7,"b":-45.9},{"c":3,"t":120,"a":-48.1,"b":-46.6},{"c":3,"t":128,"a":-47.7,"b":-46.1},{"c":3,"t":136,"a":-48.1,"b":-46.5},{"c":3,"t":144,"a":-47.5,"b":-46.1},{"c":3,"t":152,"a":-47.8,"b":-45.7},{"c":3,"t":160,"a":-48.1,"b":-46.2},{"c":3,"t":168,"a":-47.4,"b":-45.9},{"c":3,"t":176,"a":-47.1,"b":-45.5},{"c":3,"t":184,"a":-47.5,"b":-45.8},{"c":3,"t":192,"a":-47.2,"b":-45.9},{"c":3,"t":200,"a":-47.5,"b":-45.4},{"c":3,"t":208,"a":-46.9,"b":-45.1},{"c":3,"t":216,"a":-47.3,"b":-45.8},{"c":3,"t":224,"a":-47.0,"b":-45.4},{"c":3,"t":232,"a":-47.5,"b":-45.9},{"c":3,"t":240,"a":-46.9,"b":-45.5},{"c":3,"t":248,"a":-47.3,"b":-45.2},{"c":3,"t":256,"a":-47.7,"b":-45.8},{"c":3,"t":264,"a":-47.2,"b":-45.7},{"c":3,"t":272,"a":-47.1,"b":-45.5},{"c":3,"t":280,"a":-47.6,"b":-45.9},{"c":3,"t":288,"a":-47.5,"b":-46.2},{"c":3,"t":296,"a":-48.0,"b":-45.9},{"c":3,"t":304,"a":-47.3,"b":-45.5},{"c":3,"t":312,"a":-47.7,"b":-46.2},{"c":3,"t":320,"a":-47.1,"b":-45.5},{"c":3,"t":328,"a":-47.2,"b":-45.6},{"c":3,"t":336,"a":-46.5,"b":-45.1},{"c":3,"t":344,"a":-46.9,"b":-44.8},{"c":3,"t":352,"a":-47.3,"b":-45.4},{"c":3,"t":360,"a":-46.8,"b":-45.3},{"c":3,"t":368,"a":-46.5,"b":-44.9},{"c":3,"t":376,"a":-47.0,"b":-45.3},{"c":3,"t":383,"a":-46.9,"b":-45.6},
{"c":4,"t":0,"a":-70.5,"b":-69.1},{"c":4,"t":8,"a":-70.9,"b":-68.8},{"c":4,"t":16,"a":-71.4,"b":-69.5},{"c":4,"t":24,"a":-70.8,"b":-69.3},{"c":4,"t":32,"a":-70.6,"b":-69.0},{"c":4,"t":40,"a":-71.2,"b":-69.5},{"c":4,"t":48,"a":-71.0,"b":-69.7},{"c":4,"t":56,"a":-71.3,"b":-69.2},{"c":4,"t":64,"a":-70.6,"b":-68.8},{"c":4,"t":72,"a":-71.0,"b":-69.5},{"c":4,"t":80,"a":-70.6,"b":-69.0},{"c":4,"t":88,"a":-71.1,"b":-69.5},{"c":4,"t":96,"a":-70.4,"b":-69.0},{"c":4,"t":104,"a":-70.6,"b":-68.5},{"c":4,"t":112,"a":-70.8,"b":-68.9},{"c":4,"t":120,"a":-70.0,"b":-68.5},{"c":4,"t":128,"a":-69.5,"b":-67.9},{"c":4,"t":136,"a":-69.8,"b":-68.1},{"c":4,"t":144,"a":-69.4,"b":-68.1},{"c":4,"t":152,"a":-69.6,"b":-67.5},{"c":4,"t":160,"a":-68.9,"b":-67.1},{"c":4,"t":168,"a":-69.4,"b":-67.9},{"c":4,"t":176,"a":-69.2,"b":-67.6},{"c":4,"t":184,"a":-69.7,"b":-68.1},{"c":4,"t":192,"a":-69.2,"b":-67.8},{"c":4,"t":200,"a":-69.6,"b":-67.5},{"c":4,"t":208,"a":-70.1,"b":-68.2},{"c":4,"t":216,"a":-69.5,"b":-68.0},{"c":4,"t":224,"a":-69.4,"b":-67.8},{"c":4,"t":232,"a":-70.0,"b":-68.3},{"c":4,"t":240,"a":-69.8,"b":-68.5},{"c":4,"t":248,"a":-70.3,"b":-68.2},{"c":4,"t":256,"a":-69.7,"b":-67.9},{"c":4,"t":264,"a":-70.2,"b":-68.7},{"c":4,"t":272,"a":-70.0,"b":-68.4},{"c":4,"t":280,"a":-70.6,"b":-69.0},{"c":4,"t":288,"a":-70.0,"b":-68.6},{"c":4,"t":296,"a":-70.5,"b":-68.4},{"c":4,"t":304,"a":-70.9,"b":-69.0},{"c":4,"t":312,"a":-70.2,"b":-68.7},{"c":4,"t":320,"a":-69.5,"b":-67.9},{"c":4,"t":328,"a":-69.6,"b":-67.9},{"c":4,"t":336,"a":-69.2,"b":-67.9},{"c":4,"t":344,"a":-69.6,"b":-67.5},{"c":4,"t":352,"a":-68.8,"b":-67.0},{"c":4,"t":360,"a":-69.3,"b":-67.8},{"c":4,"t":368,"a":-69.0,"b":-67.4},{"c":4,"t":376,"a":-69.5,"b":-67.9},{"c":4,"t":383,"a":-68.9,"b":-67.5}
],
"Cs":[
{"c":1,"t":20,"a":-1.8,"b":1.8},{"c":1,"t":60,"a":-1.5,"b":2.2},{"c":1,"t":83,"a":0.0,"b":2.8},{"c":1,"t":110,"a":-1.2,"b":2.6},{"c":1,"t":130,"a":-1.0,"b":3.0},{"c":1,"t":175,"a":0.5,"b":4.2},{"c":1,"t":199,"a":1.5,"b":4.8},{"c":1,"t":230,"a":-1.8,"b":1.5},{"c":1,"t":260,"a":-1.2,"b":2.5},{"c":1,"t":290,"a":0.0,"b":3.8},{"c":1,"t":320,"a":-0.5,"b":3.5},{"c":1,"t":335,"a":-1.2,"b":3.4},{"c":1,"t":360,"a":0.0,"b":4.2},{"c":1,"t":375,"a":-0.8,"b":2.8},
{"c":2,"t":10,"a":-30.5,"b":-27.0},{"c":2,"t":40,"a":-30.0,"b":-26.0},{"c":2,"t":70,"a":-29.5,"b":-26.0},{"c":2,"t":100,"a":-29.5,"b":-25.8},{"c":2,"t":150,"a":-28.5,"b":-25.0},{"c":2,"t":185,"a":-28.0,"b":-24.0},{"c":2,"t":215,"a":-29.0,"b":-25.5},{"c":2,"t":250,"a":-30.0,"b":-26.5},{"c":2,"t":290,"a":-29.8,"b":-26.0},{"c":2,"t":340,"a":-27.5,"b":-24.2},{"c":2,"t":370,"a":-28.8,"b":-25.0},
{"c":3,"t":5,"a":-50.5,"b":-46.5},{"c":3,"t":30,"a":-49.8,"b":-46.0},{"c":3,"t":80,"a":-49.6,"b":-46.6},{"c":3,"t":110,"a":-49.0,"b":-45.0},{"c":3,"t":150,"a":-49.0,"b":-44.8},{"c":3,"t":190,"a":-48.5,"b":-44.6},{"c":3,"t":240,"a":-48.6,"b":-45.5},{"c":3,"t":280,"a":-48.8,"b":-45.0},{"c":3,"t":320,"a":-48.5,"b":-44.5},{"c":3,"t":365,"a":-48.0,"b":-44.0},
{"c":4,"t":5,"a":-72.5,"b":-68.5},{"c":4,"t":40,"a":-72.5,"b":-68.8},{"c":4,"t":100,"a":-72.0,"b":-68.0},{"c":4,"t":170,"a":-70.8,"b":-66.5},{"c":4,"t":210,"a":-71.5,"b":-67.2},{"c":4,"t":250,"a":-71.6,"b":-68.2},{"c":4,"t":300,"a":-72.0,"b":-68.0},{"c":4,"t":340,"a":-71.0,"b":-66.8},{"c":4,"t":355,"a":-70.5,"b":-67.0},{"c":4,"t":372,"a":-70.5,"b":-66.5}
]
},
"vconcat":[
{"width":701,"height":310,
"layer":[
{"data":{"values":[{"v":-11.6},{"v":-33.2},{"v":-54.8}]},"mark":{"type":"rule","color":"#a8a8a8","strokeWidth":1},"encoding":{"x":{"datum":0,"type":"quantitative","scale":{"domain":[-64,1592],"nice":false,"zero":false}},"x2":{"datum":1584},"y":{"field":"v","type":"quantitative","scale":{"domain":[-86,38],"nice":false,"zero":false}}}},
{"data":{"name":"Ah"},"mark":{"type":"rule","color":"#555555","strokeWidth":0.8},"encoding":{"x":{"field":"t","type":"quantitative","scale":{"domain":[-64,1592],"nice":false,"zero":false}},"y":{"field":"a","type":"quantitative","scale":{"domain":[-86,38],"nice":false,"zero":false}},"y2":{"field":"b"}}},
{"data":{"name":"A"},"mark":{"type":"area","color":"black","opacity":1},"encoding":{"x":{"field":"t","type":"quantitative","scale":{"domain":[-64,1592],"nice":false,"zero":false}},"y":{"field":"a","type":"quantitative","scale":{"domain":[-86,38],"nice":false,"zero":false}},"y2":{"field":"b"},"detail":{"field":"c","type":"nominal"}}},
{"data":{"name":"A"},"mark":{"type":"line","color":"black","strokeWidth":0.65},"encoding":{"x":{"field":"t","type":"quantitative","scale":{"domain":[-64,1592],"nice":false,"zero":false}},"y":{"field":"a","type":"quantitative","scale":{"domain":[-86,38],"nice":false,"zero":false}},"detail":{"field":"c","type":"nominal"}}},
{"data":{"name":"A"},"mark":{"type":"line","color":"black","strokeWidth":0.65},"encoding":{"x":{"field":"t","type":"quantitative","scale":{"domain":[-64,1592],"nice":false,"zero":false}},"y":{"field":"b","type":"quantitative","scale":{"domain":[-86,38],"nice":false,"zero":false}},"detail":{"field":"c","type":"nominal"}}},
{"data":{"name":"As"},"mark":{"type":"rule","color":"#2a2a2a","strokeWidth":1.1},"encoding":{"x":{"field":"t","type":"quantitative","scale":{"domain":[-64,1592],"nice":false,"zero":false}},"y":{"field":"a","type":"quantitative","scale":{"domain":[-86,38],"nice":false,"zero":false}},"y2":{"field":"b"}}},
{"data":{"values":[{}]},"mark":{"type":"rule","color":"black","strokeWidth":3.2},"encoding":{"x":{"datum":428,"type":"quantitative","scale":{"domain":[-64,1592],"nice":false,"zero":false}},"x2":{"datum":791},"y":{"datum":9.6,"type":"quantitative","scale":{"domain":[-86,38],"nice":false,"zero":false}}}},
{"data":{"values":[{}]},"mark":{"type":"rule","color":"black","strokeWidth":2.6},"encoding":{"x":{"datum":817,"type":"quantitative","scale":{"domain":[-64,1592],"nice":false,"zero":false}},"y":{"datum":16.8,"type":"quantitative","scale":{"domain":[-86,38],"nice":false,"zero":false}},"y2":{"datum":13.2}}},
{"data":{"values":[{}]},"mark":{"type":"point","shape":"triangle-down","filled":true,"color":"black","opacity":1,"size":95},"encoding":{"x":{"datum":817,"type":"quantitative","scale":{"domain":[-64,1592],"nice":false,"zero":false}},"y":{"datum":12.0,"type":"quantitative","scale":{"domain":[-86,38],"nice":false,"zero":false}}}},
{"data":{"values":[{}]},"mark":{"type":"text","align":"left","baseline":"alphabetic","fontSize":24},"encoding":{"x":{"datum":-56.7,"type":"quantitative","scale":{"domain":[-64,1592],"nice":false,"zero":false}},"y":{"datum":28.6,"type":"quantitative","scale":{"domain":[-86,38],"nice":false,"zero":false}},"text":{"value":"A"}}},
{"data":{"values":[{}]},"mark":{"type":"text","align":"left","baseline":"alphabetic","fontSize":20.5},"encoding":{"x":{"datum":37.8,"type":"quantitative","scale":{"domain":[-64,1592],"nice":false,"zero":false}},"y":{"datum":27.4,"type":"quantitative","scale":{"domain":[-86,38],"nice":false,"zero":false}},"text":{"value":"Kv1.1 KO mice +10mg.kg XE991"}}},
{"data":{"values":[{}]},"mark":{"type":"text","align":"left","baseline":"alphabetic","fontSize":20.5},"encoding":{"x":{"datum":451,"type":"quantitative","scale":{"domain":[-64,1592],"nice":false,"zero":false}},"y":{"datum":15.8,"type":"quantitative","scale":{"domain":[-86,38],"nice":false,"zero":false}},"text":{"value":"Seizure+ SD"}}},
{"data":{"values":[{}]},"mark":{"type":"text","align":"left","baseline":"alphabetic","fontSize":20.5},"encoding":{"x":{"datum":777,"type":"quantitative","scale":{"domain":[-64,1592],"nice":false,"zero":false}},"y":{"datum":20.6,"type":"quantitative","scale":{"domain":[-86,38],"nice":false,"zero":false}},"text":{"value":"Terminal depolarization"}}},
{"data":{"values":[{}]},"mark":{"type":"rule","color":"black","strokeWidth":2.5},"encoding":{"x":{"datum":23.6,"type":"quantitative","scale":{"domain":[-64,1592],"nice":false,"zero":false}},"x2":{"datum":323.6},"y":{"datum":-71.2,"type":"quantitative","scale":{"domain":[-86,38],"nice":false,"zero":false}}}},
{"data":{"values":[{}]},"mark":{"type":"rule","color":"black","strokeWidth":2.5},"encoding":{"x":{"datum":323.6,"type":"quantitative","scale":{"domain":[-64,1592],"nice":false,"zero":false}},"y":{"datum":-70.7,"type":"quantitative","scale":{"domain":[-86,38],"nice":false,"zero":false}},"y2":{"datum":-81.2}}},
{"data":{"values":[{}]},"mark":{"type":"text","align":"left","baseline":"alphabetic","fontSize":20.5},"encoding":{"x":{"datum":104,"type":"quantitative","scale":{"domain":[-64,1592],"nice":false,"zero":false}},"y":{"datum":-80.4,"type":"quantitative","scale":{"domain":[-86,38],"nice":false,"zero":false}},"text":{"value":"300 s"}}},
{"data":{"values":[{}]},"mark":{"type":"text","align":"left","baseline":"alphabetic","fontSize":20.5},"encoding":{"x":{"datum":345,"type":"quantitative","scale":{"domain":[-64,1592],"nice":false,"zero":false}},"y":{"datum":-79.6,"type":"quantitative","scale":{"domain":[-86,38],"nice":false,"zero":false}},"text":{"value":"10mV"}}}
]},
{"hconcat":[
{"width":400,"height":307,
"layer":[
{"data":{"values":[{"v":-12.9},{"v":-37.1},{"v":-61.7}]},"mark":{"type":"rule","color":"#a8a8a8","strokeWidth":1},"encoding":{"x":{"datum":0,"type":"quantitative","scale":{"domain":[-25.9,331.3],"nice":false,"zero":false}},"x2":{"datum":309},"y":{"field":"v","type":"quantitative","scale":{"domain":[-89.6,38.3],"nice":false,"zero":false}}}},
{"data":{"name":"Bs"},"mark":{"type":"rule","color":"#444444","strokeWidth":0.8},"encoding":{"x":{"field":"t","type":"quantitative","scale":{"domain":[-25.9,331.3],"nice":false,"zero":false}},"y":{"field":"a","type":"quantitative","scale":{"domain":[-89.6,38.3],"nice":false,"zero":false}},"y2":{"field":"b"}}},
{"data":{"name":"B"},"mark":{"type":"area","color":"black","opacity":1},"encoding":{"x":{"field":"t","type":"quantitative","scale":{"domain":[-25.9,331.3],"nice":false,"zero":false}},"y":{"field":"a","type":"quantitative","scale":{"domain":[-89.6,38.3],"nice":false,"zero":false}},"y2":{"field":"b"},"detail":{"field":"c","type":"nominal"}}},
{"data":{"name":"B"},"mark":{"type":"line","color":"black","strokeWidth":0.65},"encoding":{"x":{"field":"t","type":"quantitative","scale":{"domain":[-25.9,331.3],"nice":false,"zero":false}},"y":{"field":"a","type":"quantitative","scale":{"domain":[-89.6,38.3],"nice":false,"zero":false}},"detail":{"field":"c","type":"nominal"}}},
{"data":{"name":"B"},"mark":{"type":"line","color":"black","strokeWidth":0.65},"encoding":{"x":{"field":"t","type":"quantitative","scale":{"domain":[-25.9,331.3],"nice":false,"zero":false}},"y":{"field":"b","type":"quantitative","scale":{"domain":[-89.6,38.3],"nice":false,"zero":false}},"detail":{"field":"c","type":"nominal"}}},
{"data":{"values":[{}]},"mark":{"type":"rule","color":"black","strokeWidth":3.2},"encoding":{"x":{"datum":77.7,"type":"quantitative","scale":{"domain":[-25.9,331.3],"nice":false,"zero":false}},"x2":{"datum":136.6},"y":{"datum":9.6,"type":"quantitative","scale":{"domain":[-89.6,38.3],"nice":false,"zero":false}}}},
{"data":{"values":[{}]},"mark":{"type":"rule","color":"black","strokeWidth":2.6},"encoding":{"x":{"datum":159.8,"type":"quantitative","scale":{"domain":[-25.9,331.3],"nice":false,"zero":false}},"y":{"datum":12.7,"type":"quantitative","scale":{"domain":[-89.6,38.3],"nice":false,"zero":false}},"y2":{"datum":9.4}}},
{"data":{"values":[{}]},"mark":{"type":"point","shape":"triangle-down","filled":true,"color":"black","opacity":1,"size":85},"encoding":{"x":{"datum":159.8,"type":"quantitative","scale":{"domain":[-25.9,331.3],"nice":false,"zero":false}},"y":{"datum":8.5,"type":"quantitative","scale":{"domain":[-89.6,38.3],"nice":false,"zero":false}}}},
{"data":{"values":[{}]},"mark":{"type":"text","align":"left","baseline":"alphabetic","fontSize":24},"encoding":{"x":{"datum":-22.3,"type":"quantitative","scale":{"domain":[-25.9,331.3],"nice":false,"zero":false}},"y":{"datum":26.9,"type":"quantitative","scale":{"domain":[-89.6,38.3],"nice":false,"zero":false}},"text":{"value":"B"}}},
{"data":{"values":[{}]},"mark":{"type":"text","align":"left","baseline":"alphabetic","fontSize":20.5},"encoding":{"x":{"datum":14.3,"type":"quantitative","scale":{"domain":[-25.9,331.3],"nice":false,"zero":false}},"y":{"datum":26.9,"type":"quantitative","scale":{"domain":[-89.6,38.3],"nice":false,"zero":false}},"text":{"value":"Kv1.1 KO +10mg.kg XE991"}}},
{"data":{"values":[{}]},"mark":{"type":"text","align":"left","baseline":"alphabetic","fontSize":20.5},"encoding":{"x":{"datum":7.1,"type":"quantitative","scale":{"domain":[-25.9,331.3],"nice":false,"zero":false}},"y":{"datum":12.3,"type":"quantitative","scale":{"domain":[-89.6,38.3],"nice":false,"zero":false}},"text":{"value":"Seizure +SD"}}},
{"data":{"values":[{}]},"mark":{"type":"text","align":"left","baseline":"alphabetic","fontSize":20.5},"encoding":{"x":{"datum":130.4,"type":"quantitative","scale":{"domain":[-25.9,331.3],"nice":false,"zero":false}},"y":{"datum":14.4,"type":"quantitative","scale":{"domain":[-89.6,38.3],"nice":false,"zero":false}},"text":{"value":"Terminal depolarization"}}},
{"data":{"values":[{}]},"mark":{"type":"rule","color":"black","strokeWidth":2.5},"encoding":{"x":{"datum":16.1,"type":"quantitative","scale":{"domain":[-25.9,331.3],"nice":false,"zero":false}},"x2":{"datum":66.1},"y":{"datum":-77.5,"type":"quantitative","scale":{"domain":[-89.6,38.3],"nice":false,"zero":false}}}},
{"data":{"values":[{}]},"mark":{"type":"rule","color":"black","strokeWidth":2.5},"encoding":{"x":{"datum":66.1,"type":"quantitative","scale":{"domain":[-25.9,331.3],"nice":false,"zero":false}},"y":{"datum":-77.0,"type":"quantitative","scale":{"domain":[-89.6,38.3],"nice":false,"zero":false}},"y2":{"datum":-87.5}}},
{"data":{"values":[{}]},"mark":{"type":"text","align":"left","baseline":"alphabetic","fontSize":20.5},"encoding":{"x":{"datum":14.3,"type":"quantitative","scale":{"domain":[-25.9,331.3],"nice":false,"zero":false}},"y":{"datum":-87.5,"type":"quantitative","scale":{"domain":[-89.6,38.3],"nice":false,"zero":false}},"text":{"value":"50 s"}}},
{"data":{"values":[{}]},"mark":{"type":"text","align":"left","baseline":"alphabetic","fontSize":20.5},"encoding":{"x":{"datum":70.5,"type":"quantitative","scale":{"domain":[-25.9,331.3],"nice":false,"zero":false}},"y":{"datum":-84.2,"type":"quantitative","scale":{"domain":[-89.6,38.3],"nice":false,"zero":false}},"text":{"value":"10mV"}}}
]},
{"width":301,"height":307,
"layer":[
{"data":{"values":[{"v":-12.0},{"v":-36.0},{"v":-59.2}]},"mark":{"type":"rule","color":"#a8a8a8","strokeWidth":1},"encoding":{"x":{"datum":0,"type":"quantitative","scale":{"domain":[-30.7,409.7],"nice":false,"zero":false}},"x2":{"datum":383},"y":{"field":"v","type":"quantitative","scale":{"domain":[-88,34.8],"nice":false,"zero":false}}}},
{"data":{"name":"Cs"},"mark":{"type":"rule","color":"#444444","strokeWidth":0.8},"encoding":{"x":{"field":"t","type":"quantitative","scale":{"domain":[-30.7,409.7],"nice":false,"zero":false}},"y":{"field":"a","type":"quantitative","scale":{"domain":[-88,34.8],"nice":false,"zero":false}},"y2":{"field":"b"}}},
{"data":{"name":"C"},"mark":{"type":"area","color":"black","opacity":1},"encoding":{"x":{"field":"t","type":"quantitative","scale":{"domain":[-30.7,409.7],"nice":false,"zero":false}},"y":{"field":"a","type":"quantitative","scale":{"domain":[-88,34.8],"nice":false,"zero":false}},"y2":{"field":"b"},"detail":{"field":"c","type":"nominal"}}},
{"data":{"name":"C"},"mark":{"type":"line","color":"black","strokeWidth":0.65},"encoding":{"x":{"field":"t","type":"quantitative","scale":{"domain":[-30.7,409.7],"nice":false,"zero":false}},"y":{"field":"a","type":"quantitative","scale":{"domain":[-88,34.8],"nice":false,"zero":false}},"detail":{"field":"c","type":"nominal"}}},
{"data":{"name":"C"},"mark":{"type":"line","color":"black","strokeWidth":0.65},"encoding":{"x":{"field":"t","type":"quantitative","scale":{"domain":[-30.7,409.7],"nice":false,"zero":false}},"y":{"field":"b","type":"quantitative","scale":{"domain":[-88,34.8],"nice":false,"zero":false}},"detail":{"field":"c","type":"nominal"}}},
{"data":{"values":[{}]},"mark":{"type":"text","align":"left","baseline":"alphabetic","fontSize":24},"encoding":{"x":{"datum":-16.1,"type":"quantitative","scale":{"domain":[-30.7,409.7],"nice":false,"zero":false}},"y":{"datum":23.8,"type":"quantitative","scale":{"domain":[-88,34.8],"nice":false,"zero":false}},"text":{"value":"C"}}},
{"data":{"values":[{}]},"mark":{"type":"text","align":"left","baseline":"alphabetic","fontSize":20.5},"encoding":{"x":{"datum":24.9,"type":"quantitative","scale":{"domain":[-30.7,409.7],"nice":false,"zero":false}},"y":{"datum":23.8,"type":"quantitative","scale":{"domain":[-88,34.8],"nice":false,"zero":false}},"text":{"value":"Kv1.1 WT +10mg.kg XE991"}}},
{"data":{"values":[{}]},"mark":{"type":"text","align":"left","baseline":"alphabetic","fontSize":20.5},"encoding":{"x":{"datum":26.3,"type":"quantitative","scale":{"domain":[-30.7,409.7],"nice":false,"zero":false}},"y":{"datum":12.2,"type":"quantitative","scale":{"domain":[-88,34.8],"nice":false,"zero":false}},"text":{"value":"No seizure or SD"}}},
{"data":{"values":[{}]},"mark":{"type":"rule","color":"black","strokeWidth":3},"encoding":{"x":{"datum":19,"type":"quantitative","scale":{"domain":[-30.7,409.7],"nice":false,"zero":false}},"x2":{"datum":79},"y":{"datum":-76.4,"type":"quantitative","scale":{"domain":[-88,34.8],"nice":false,"zero":false}}}},
{"data":{"values":[{}]},"mark":{"type":"text","align":"left","baseline":"alphabetic","fontSize":20.5},"encoding":{"x":{"datum":23.4,"type":"quantitative","scale":{"domain":[-30.7,409.7],"nice":false,"zero":false}},"y":{"datum":-85.2,"type":"quantitative","scale":{"domain":[-88,34.8],"nice":false,"zero":false}},"text":{"value":"60 s"}}}
]}
],"spacing":0,"bounds":"flush"}
]
}
